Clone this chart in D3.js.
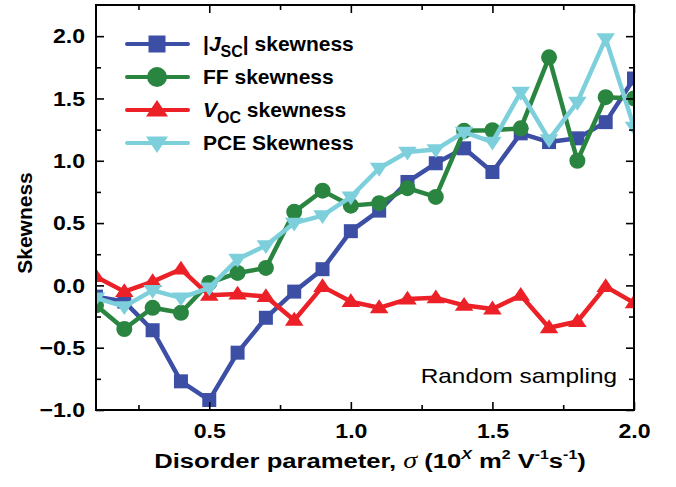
<!DOCTYPE html>
<html>
<head>
<meta charset="utf-8">
<script src="https://cdn.jsdelivr.net/npm/d3@7"></script>
<style>
  html, body { margin: 0; padding: 0; background: #fff; }
  svg { display: block; }
</style>
</head>
<body>
<svg id="chart" width="676" height="487"></svg>
<script>
// Disorder parameter values (sigma)
const sigma = [0.1, 0.2, 0.3, 0.4, 0.5, 0.6, 0.7, 0.8, 0.9, 1.0,
               1.1, 1.2, 1.3, 1.4, 1.5, 1.6, 1.7, 1.8, 1.9, 2.0];

// Skewness of each device parameter
const jscSkew = [-0.09, -0.13, -0.36, -0.77, -0.92, -0.54, -0.26, -0.05, 0.13, 0.435,
                 0.60, 0.83, 0.98, 1.10, 0.91, 1.22, 1.15, 1.18, 1.31, 1.66];
const ffSkew  = [-0.16, -0.35, -0.18, -0.22, 0.02, 0.10, 0.14, 0.59, 0.76, 0.64,
                 0.66, 0.78, 0.71, 1.24, 1.245, 1.26, 1.83, 1.00, 1.51, 1.50];
const vocSkew = [0.07, -0.05, 0.03, 0.13, -0.08, -0.07, -0.09, -0.28, -0.01, -0.13,
                 -0.18, -0.11, -0.10, -0.16, -0.19, -0.08, -0.34, -0.29, -0.01, -0.14];
const pceSkew = [-0.10, -0.17, -0.04, -0.10, -0.02, 0.21, 0.32, 0.50, 0.56, 0.71,
                 0.94, 1.07, 1.09, 1.23, 1.15, 1.55, 1.17, 1.47, 1.98, 1.27];

const xMajorTicks = [0.5, 1.0, 1.5, 2.0];
const xMinorTicks = [0.25, 0.75, 1.25, 1.75];
const yMajorTicks = [-1.0, -0.5, 0.0, 0.5, 1.0, 1.5, 2.0];
const yMinorTicks = [-0.75, -0.25, 0.25, 0.75, 1.25, 1.75];

const series = [
  { key: "jsc", values: jscSkew, color: "#3D4FA5", shape: "square" },
  { key: "ff",  values: ffSkew,  color: "#2A8541", shape: "circle" },
  { key: "voc", values: vocSkew, color: "#EC2128", shape: "up" },
  { key: "pce", values: pceSkew, color: "#7DD0DB", shape: "down" }
];

const FAMILY = "'Liberation Sans', Arial, Helvetica, sans-serif";

const svg = d3.select("#chart");
const plotL = 96, plotR = 634, plotT = 5, plotB = 410;

const x = d3.scaleLinear().domain([0.1, 2.0]).range([plotL, plotR]);
const y = d3.scaleLinear().domain([-1.0, 2.25]).range([plotB, plotT]);

// Marker path generator centred on (0,0)
function markerPath(shape, s) {
  if (shape === "square") {
    const h = s / 2;
    return `M${-h},${-h}H${h}V${h}H${-h}Z`;
  }
  if (shape === "circle") {
    const r = s / 2;
    return `M${r},0A${r},${r} 0 1,1 ${-r},0A${r},${r} 0 1,1 ${r},0Z`;
  }
  const w = s * 0.58, hh = s * 0.48;
  if (shape === "up") {
    return `M0,${-hh * 1.1}L${w},${hh * 0.7}L${-w},${hh * 0.7}Z`;
  }
  return `M0,${hh * 1.1}L${w},${-hh * 0.7}L${-w},${-hh * 0.7}Z`;
}
const markerSize = { square: 14, circle: 16, up: 16, down: 16 };

// Clip region for data
svg.append("defs").append("clipPath").attr("id", "plotClip")
  .append("rect").attr("x", plotL).attr("y", plotT)
  .attr("width", plotR - plotL).attr("height", plotB - plotT);

const dataG = svg.append("g").attr("clip-path", "url(#plotClip)");
const line = d3.line().x((d, i) => x(sigma[i])).y(d => y(d));

series.forEach(s => {
  const g = dataG.append("g");
  g.append("path").datum(s.values)
    .attr("d", line)
    .attr("fill", "none")
    .attr("stroke", s.color)
    .attr("stroke-width", 4.5)
    .attr("stroke-linejoin", "round");
  g.selectAll("path.mk").data(s.values).join("path")
    .attr("class", "mk")
    .attr("transform", (d, i) => `translate(${x(sigma[i])},${y(d)})`)
    .attr("d", markerPath(s.shape, markerSize[s.shape]))
    .attr("fill", s.color);
});

// Axes with inward ticks on all four sides
const fmt = d3.format(".1f");
const labelStretch = 1.1;

function styleAxis(g) {
  g.attr("font-family", FAMILY).attr("font-size", 21).attr("font-weight", "bold");
  g.select(".domain").remove();
  g.selectAll(".tick line").attr("stroke", "#000").attr("stroke-width", 1.6);
  g.selectAll(".tick text").attr("fill", "#000");
}
// Slightly widen tick label glyphs while keeping their anchor point
function widenLabels(g) {
  g.selectAll(".tick text").each(function () {
    const t = d3.select(this);
    const x0 = +t.attr("x") || 0;
    t.attr("x", x0 / labelStretch).attr("transform", `scale(${labelStretch},1)`);
  });
}

svg.append("g").attr("transform", `translate(0,${plotB})`)
  .call(d3.axisBottom(x).tickValues(xMajorTicks).tickFormat(fmt).tickSize(-8).tickPadding(13))
  .call(styleAxis).call(widenLabels);
svg.append("g").attr("transform", `translate(0,${plotB})`)
  .call(d3.axisBottom(x).tickValues(xMinorTicks).tickFormat("").tickSize(-5))
  .call(styleAxis);
svg.append("g").attr("transform", `translate(0,${plotT})`)
  .call(d3.axisTop(x).tickValues(xMajorTicks).tickFormat("").tickSize(-8))
  .call(styleAxis);
svg.append("g").attr("transform", `translate(0,${plotT})`)
  .call(d3.axisTop(x).tickValues(xMinorTicks).tickFormat("").tickSize(-5))
  .call(styleAxis);

svg.append("g").attr("transform", `translate(${plotL},0)`)
  .call(d3.axisLeft(y).tickValues(yMajorTicks).tickFormat(fmt).tickSize(-8).tickPadding(11))
  .call(styleAxis).call(widenLabels);
svg.append("g").attr("transform", `translate(${plotL},0)`)
  .call(d3.axisLeft(y).tickValues(yMinorTicks).tickFormat("").tickSize(-5))
  .call(styleAxis);
svg.append("g").attr("transform", `translate(${plotR},0)`)
  .call(d3.axisRight(y).tickValues(yMajorTicks).tickFormat("").tickSize(-8))
  .call(styleAxis);
svg.append("g").attr("transform", `translate(${plotR},0)`)
  .call(d3.axisRight(y).tickValues(yMinorTicks).tickFormat("").tickSize(-5))
  .call(styleAxis);

// Frame
svg.append("rect")
  .attr("x", plotL).attr("y", plotT)
  .attr("width", plotR - plotL).attr("height", plotB - plotT)
  .attr("fill", "none").attr("stroke", "#000").attr("stroke-width", 2);

// Axis titles
svg.append("text")
  .attr("transform", "translate(31.5,223) rotate(-90)")
  .attr("text-anchor", "middle")
  .attr("font-family", FAMILY).attr("font-size", 21).attr("font-weight", "bold")
  .text("Skewness");

const xt = svg.append("text")
  .attr("transform", "translate(370,468) scale(1.22,1)")
  .attr("text-anchor", "middle")
  .attr("font-family", FAMILY).attr("font-size", 21).attr("font-weight", "bold");
xt.append("tspan").text("Disorder parameter, ");
xt.append("tspan").attr("font-family", "'Liberation Serif', 'Times New Roman', serif")
  .attr("font-style", "italic").attr("font-weight", "normal").attr("font-size", 23).text("σ");
xt.append("tspan").text(" (10");
xt.append("tspan").attr("dy", -9).attr("font-size", 13).attr("font-style", "italic").text("X");
xt.append("tspan").attr("dy", 9).text(" m");
xt.append("tspan").attr("dy", -9).attr("font-size", 13).text("2");
xt.append("tspan").attr("dy", 9).text(" V");
xt.append("tspan").attr("dy", -9).attr("font-size", 13).text("-1");
xt.append("tspan").attr("dy", 9).text("s");
xt.append("tspan").attr("dy", -9).attr("font-size", 13).text("-1");
xt.append("tspan").attr("dy", 9).text(")");

// Annotation
svg.append("text")
  .attr("transform", "translate(617,383) scale(1.16,1)")
  .attr("text-anchor", "end")
  .attr("font-family", FAMILY).attr("font-size", 21)
  .text("Random sampling");

// Legend
const legendRows = [44, 77, 110, 143];
const legendLabels = [
  [["|", ""], ["J", "i"], ["SC", "sub"], ["| skewness", ""]],
  [["FF skewness", ""]],
  [["V", "i"], ["OC", "sub"], [" skewness", ""]],
  [["PCE Skewness", ""]]
];
const legendMarker = { square: 17, circle: 20, up: 19, down: 19 };
const lg = svg.append("g");
series.forEach((s, k) => {
  const cy = legendRows[k];
  lg.append("line").attr("x1", 127).attr("x2", 188).attr("y1", cy).attr("y2", cy)
    .attr("stroke", s.color).attr("stroke-width", 4).attr("stroke-linecap", "round");
  lg.append("path").attr("transform", `translate(157,${cy})`)
    .attr("d", markerPath(s.shape, legendMarker[s.shape]))
    .attr("fill", s.color);
  const t = lg.append("text").attr("x", 203).attr("y", cy + 6.5)
    .attr("font-family", FAMILY).attr("font-size", 21).attr("font-weight", "bold");
  let shifted = false;
  legendLabels[k].forEach(([txt, kind]) => {
    const sp = t.append("tspan").text(txt);
    if (kind === "i") sp.attr("font-style", "italic");
    if (kind === "sub") { sp.attr("dy", 6).attr("font-size", 16); shifted = true; }
    else if (shifted) { sp.attr("dy", -6); shifted = false; }
  });
});
</script>
</body>
</html>
